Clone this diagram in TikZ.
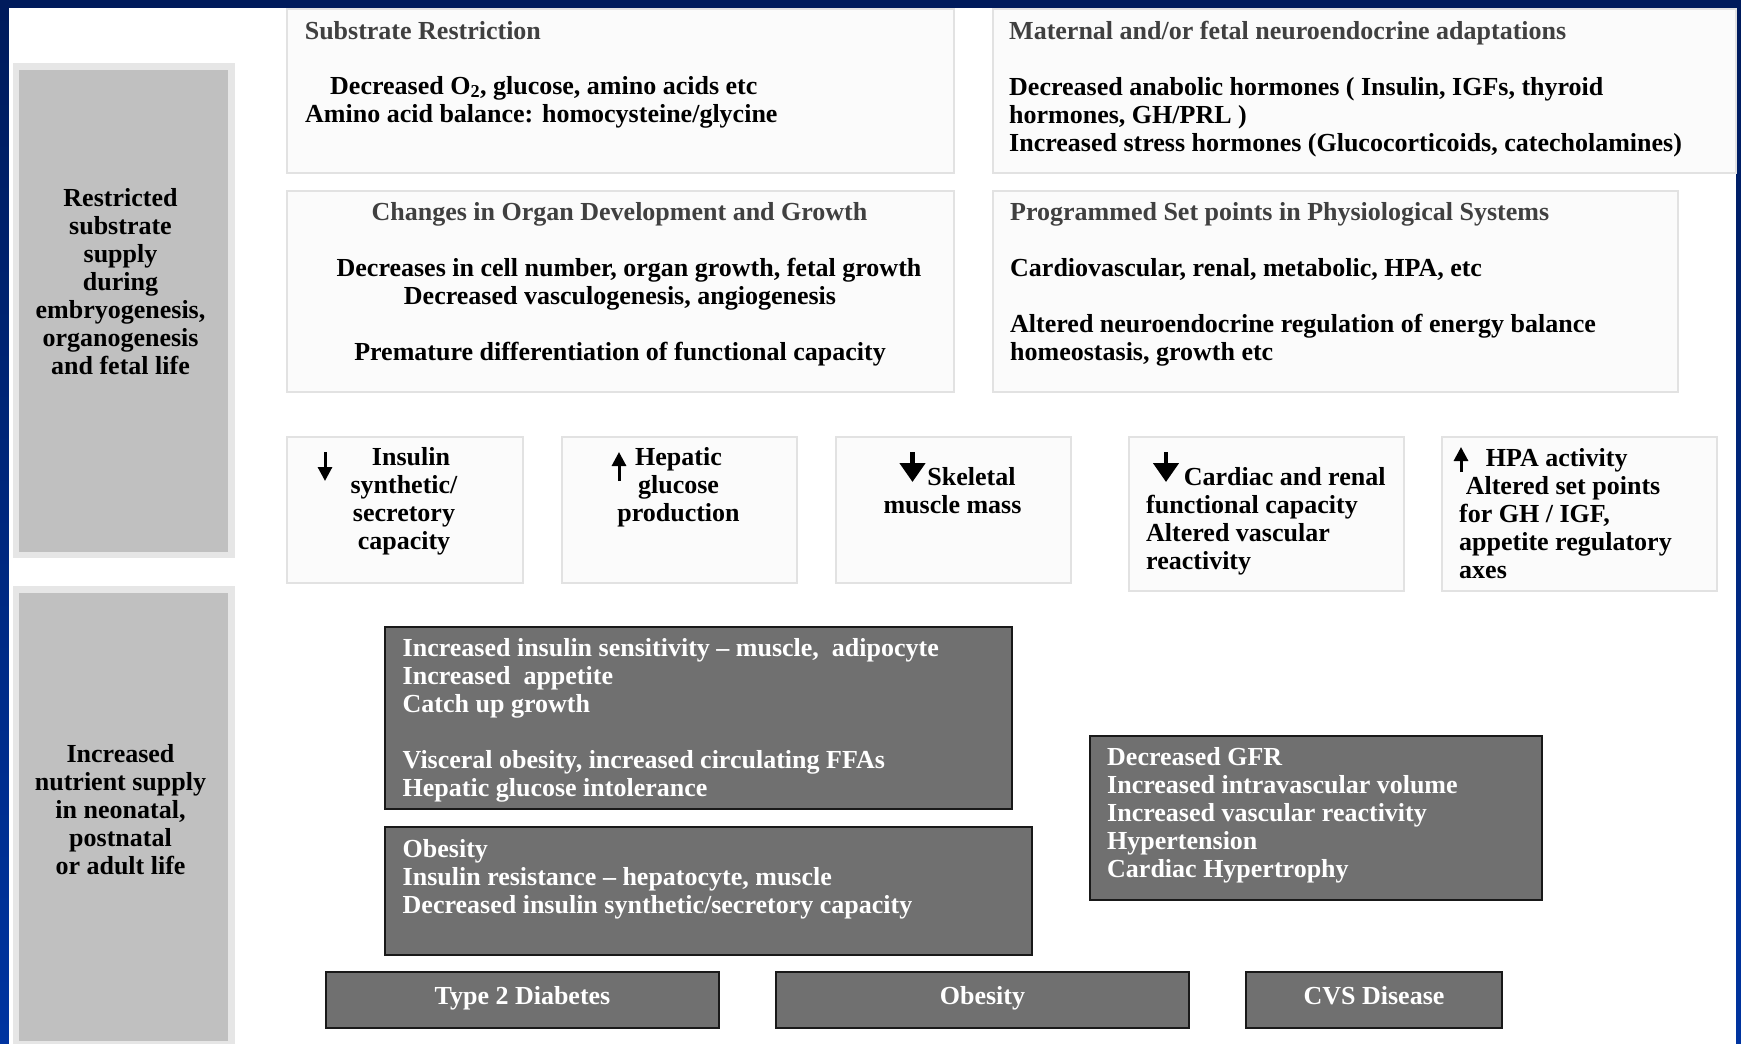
\documentclass[tikz,border=0pt]{standalone}
\usepackage{fontspec}
\setmainfont{Liberation Serif}
\usetikzlibrary{arrows.meta}

\definecolor{navy}{RGB}{0,27,92}
\definecolor{royal}{RGB}{0,52,160}
\definecolor{boxline}{RGB}{226,226,226}
\definecolor{boxfill}{RGB}{251,251,251}
\definecolor{panelout}{RGB}{230,230,230}
\definecolor{panelin}{RGB}{192,192,192}
\definecolor{darkfill}{RGB}{112,112,112}
\definecolor{headgray}{RGB}{64,64,64}

\tikzset{
  lightbox/.style={draw=boxline, fill=boxfill, line width=1.5pt, inner sep=0pt, anchor=north west},
  darkbox/.style={draw=black!90, fill=darkfill, line width=2pt, inner sep=0pt, anchor=north west},
  panel/.style={draw=panelout, fill=panelin, line width=6.5pt, inner sep=0pt, anchor=north west},
  txt/.style={font=\fontsize{26}{28}\selectfont\bfseries, inner sep=0pt},
  head/.style={txt, text=headgray},
  body/.style={txt, text=black},
  wbody/.style={txt, text=white},
  outcome/.style={darkbox, txt, text=white, text height=18pt, text depth=10pt},
  thinarr/.style={line width=3pt, -{Triangle[length=14pt,width=14pt]}},
  fatarr/.style={line width=4.5pt, -{Triangle[length=19pt,width=25pt]}},
}

\begin{document}
\begin{tikzpicture}[x=1pt, y=-1pt]
\useasboundingbox (0,0) rectangle (1741,1044);
\fill[top color=navy, bottom color=royal] (0,0) rectangle (1741,1044);
\fill[white] (9,8) rectangle (1736,1044);

\node[panel, minimum width=215.5pt, minimum height=488.5pt] (restr) at (12.5,63) {};
\node[panel, minimum width=215.5pt, minimum height=455pt] (incr) at (12.5,586) {};
\node[body, align=center, anchor=base] (restrT) at (120.5,374.7)
  {Restricted\\substrate\\supply\\during\\embryogenesis,\\organogenesis\\and fetal life};
\node[body, align=center, anchor=base] (incrT) at (120.5,874)
  {Increased\\nutrient supply\\in neonatal,\\postnatal\\or adult life};

\node[lightbox, minimum width=667pt, minimum height=164pt] (subs) at (286,8) {};
\node[lightbox, minimum width=743pt, minimum height=164pt] (neuro) at (992,8) {};
\node[lightbox, minimum width=667pt, minimum height=201pt] (organ) at (286,190) {};
\node[lightbox, minimum width=685pt, minimum height=201pt] (setpt) at (992,190) {};

\node[head, anchor=base west] (subsH) at (304.6,39) {Substrate Restriction};
\node[body, align=left, anchor=base west] (subsB) at (305,122)
  {\hspace*{25pt}Decreased O\textsubscript{2}, glucose, amino acids etc\\
   Amino acid balance: homocysteine/glycine};
\node[head, anchor=base west] (neuroH) at (1009,39) {Maternal and/or fetal neuroendocrine adaptations};
\node[body, align=left, anchor=base west] (neuroB) at (1009,151)
  {Decreased anabolic hormones ( Insulin, IGFs, thyroid\\
   hormones, GH/PRL )\\
   Increased stress hormones (Glucocorticoids, catecholamines)};
\node[head, anchor=base] (organH) at (619.5,220.7) {Changes in Organ Development and Growth};
\node[body, align=center, anchor=base] (organB) at (620,360)
  {\hspace*{18pt}Decreases in cell number, organ growth, fetal growth\\
   Decreased vasculogenesis, angiogenesis\\[28pt]
   Premature differentiation of functional capacity};
\node[head, anchor=base west] (setptH) at (1010,220) {Programmed Set points in Physiological Systems};
\node[body, align=left, anchor=base west] (setptB) at (1010,360)
  {Cardiovascular, renal, metabolic, HPA, etc\\[28pt]
   Altered neuroendocrine regulation of energy balance\\
   homeostasis, growth etc};

\node[lightbox, minimum width=236pt, minimum height=146pt] (ins) at (286,436) {};
\node[lightbox, minimum width=235pt, minimum height=146pt] (hep) at (561,436) {};
\node[lightbox, minimum width=235pt, minimum height=146pt] (skel) at (835,436) {};
\node[lightbox, minimum width=275pt, minimum height=154pt] (card) at (1128,436) {};
\node[lightbox, minimum width=275pt, minimum height=154pt] (hpa) at (1441,436) {};

\node[body, align=center, anchor=base] (insT) at (404,549.7)
  {\hspace*{14pt}Insulin\\synthetic/\\secretory\\capacity};
\node[body, align=center, anchor=base] (hepT) at (678.5,521.7)
  {Hepatic\\glucose\\production};
\node[body, align=center, anchor=base] (skelT) at (952.5,513)
  {\hspace*{38pt}Skeletal\\muscle mass};
\node[body, align=left, anchor=base west] (cardT) at (1146,569)
  {\hspace*{37.6pt}Cardiac and renal\\functional capacity\\Altered vascular\\reactivity};
\node[body, align=left, anchor=base west] (hpaT) at (1459,578.5)
  {\hspace*{26.6pt}HPA activity\\\hspace*{6.6pt}Altered set points\\for GH / IGF,\\appetite regulatory\\axes};

\draw[thinarr] ([shift={(39,16)}]ins.north west) -- ++(0,29);
\draw[thinarr] ([shift={(58,45)}]hep.north west) -- ++(0,-29);
\draw[fatarr] ([shift={(77.5,16)}]skel.north west) -- ++(0,30);
\draw[fatarr] ([shift={(38,16)}]card.north west) -- ++(0,30);
\draw[thinarr] ([shift={(20,36)}]hpa.north west) -- ++(0,-25);

\node[darkbox, minimum width=627pt, minimum height=182pt] (sens) at (384,626) {};
\node[darkbox, minimum width=647pt, minimum height=128pt] (obes) at (384,826) {};
\node[darkbox, minimum width=452pt, minimum height=164pt] (cvs) at (1089,735) {};

\node[wbody, align=left, anchor=base west] (sensT) at (402.5,796.5)
  {Increased insulin sensitivity -- muscle,\ \ adipocyte\\
   Increased\ \ appetite\\
   Catch up growth\\[28pt]
   Visceral obesity, increased circulating FFAs\\
   Hepatic glucose intolerance};
\node[wbody, align=left, anchor=base west] (obesT) at (402.5,913.4)
  {Obesity\\
   Insulin resistance -- hepatocyte, muscle\\
   Decreased insulin synthetic/secretory capacity};
\node[wbody, align=left, anchor=base west] (cvsT) at (1107,877)
  {Decreased GFR\\
   Increased intravascular volume\\
   Increased vascular reactivity\\
   Hypertension\\
   Cardiac Hypertrophy};

\node[outcome, minimum width=393pt, minimum height=56pt] (t2d) at (325,971) {Type 2 Diabetes};
\node[outcome, minimum width=413pt, minimum height=56pt] (ob) at (775,971) {Obesity};
\node[outcome, minimum width=256pt, minimum height=56pt] (cvsd) at (1245,971) {CVS Disease};
\end{tikzpicture}
\end{document}
